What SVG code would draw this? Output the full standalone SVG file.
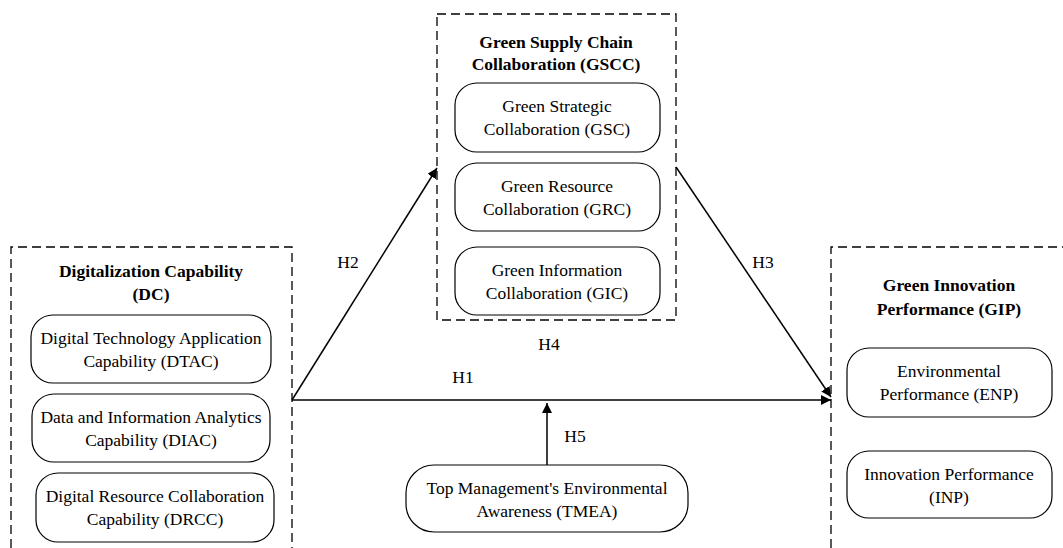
<svg xmlns="http://www.w3.org/2000/svg" width="1063" height="548" viewBox="0 0 1063 548">
<style>
.dash{fill:none;stroke:#000;stroke-width:1.3;stroke-dasharray:9,5}
.node{fill:#fff;stroke:#000;stroke-width:1.2}
.t{font-family:"Liberation Serif","Times New Roman",serif;font-size:17.5px;fill:#000;text-anchor:middle}
.b{font-family:"Liberation Serif","Times New Roman",serif;font-size:17.5px;font-weight:bold;fill:#000;text-anchor:middle}
.c{stroke:#000;stroke-width:1.5;fill:none}
</style>
<defs>
<marker id="ah" viewBox="0 0 10 10" refX="10" refY="5" markerWidth="10" markerHeight="10" markerUnits="userSpaceOnUse" orient="auto">
<path d="M0,0 L10,5 L0,10 z" fill="#000"/>
</marker>
</defs>
<rect width="1063" height="548" fill="#fff"/>

<g id="DC">
<path class="dash" d="M11,548 L11,247 L292,247 L292,548"/>
<text class="b" x="151" y="277">Digitalization Capability</text>
<text class="b" x="151" y="300">(DC)</text>
</g>
<g id="DTAC">
<rect class="node" x="31" y="315" width="240" height="68" rx="22"/>
<text class="t" x="151" y="344">Digital Technology Application</text>
<text class="t" x="151" y="367">Capability (DTAC)</text>
</g>
<g id="DIAC">
<rect class="node" x="32" y="394" width="238" height="68" rx="22"/>
<text class="t" x="151" y="423">Data and Information Analytics</text>
<text class="t" x="151" y="446">Capability (DIAC)</text>
</g>
<g id="DRCC">
<rect class="node" x="36" y="473" width="238" height="69" rx="22"/>
<text class="t" x="155" y="502">Digital Resource Collaboration</text>
<text class="t" x="155" y="525">Capability (DRCC)</text>
</g>

<g id="GSCC">
<rect class="dash" x="437" y="14" width="239" height="306"/>
<text class="b" x="556" y="48">Green Supply Chain</text>
<text class="b" x="556" y="70">Collaboration (GSCC)</text>
</g>
<g id="GSC">
<rect class="node" x="455" y="83" width="205" height="69" rx="22"/>
<text class="t" x="557" y="112">Green Strategic</text>
<text class="t" x="557" y="135">Collaboration (GSC)</text>
</g>
<g id="GRC">
<rect class="node" x="455" y="163" width="205" height="68" rx="22"/>
<text class="t" x="557" y="192">Green Resource</text>
<text class="t" x="557" y="215">Collaboration (GRC)</text>
</g>
<g id="GIC">
<rect class="node" x="455" y="247" width="205" height="68" rx="22"/>
<text class="t" x="557" y="276">Green Information</text>
<text class="t" x="557" y="299">Collaboration (GIC)</text>
</g>

<g id="GIP">
<path class="dash" d="M831,548 L831,247 L1063,247"/>
<text class="b" x="949" y="291">Green Innovation</text>
<text class="b" x="949" y="315">Performance (GIP)</text>
</g>
<g id="ENP">
<rect class="node" x="847" y="348" width="205" height="69" rx="22"/>
<text class="t" x="949" y="377">Environmental</text>
<text class="t" x="949" y="400">Performance (ENP)</text>
</g>
<g id="INP">
<rect class="node" x="847" y="451" width="205" height="67" rx="22"/>
<text class="t" x="949" y="480">Innovation Performance</text>
<text class="t" x="949" y="503">(INP)</text>
</g>

<g id="TMEA">
<rect class="node" x="406" y="465" width="282" height="67" rx="28"/>
<text class="t" x="547" y="494">Top Management's Environmental</text>
<text class="t" x="547" y="517">Awareness (TMEA)</text>
</g>

<g id="connectors">
<line class="c" x1="292" y1="400" x2="831" y2="400" marker-end="url(#ah)"/>
<line class="c" x1="292" y1="400" x2="437" y2="168" marker-end="url(#ah)"/>
<line class="c" x1="676" y1="167" x2="831" y2="397" marker-end="url(#ah)"/>
<line class="c" x1="547" y1="465" x2="547" y2="403" marker-end="url(#ah)"/>
<text class="t" x="463" y="383">H1</text>
<text class="t" x="348" y="268">H2</text>
<text class="t" x="763" y="268">H3</text>
<text class="t" x="549" y="350">H4</text>
<text class="t" x="575" y="442">H5</text>
</g>
</svg>
